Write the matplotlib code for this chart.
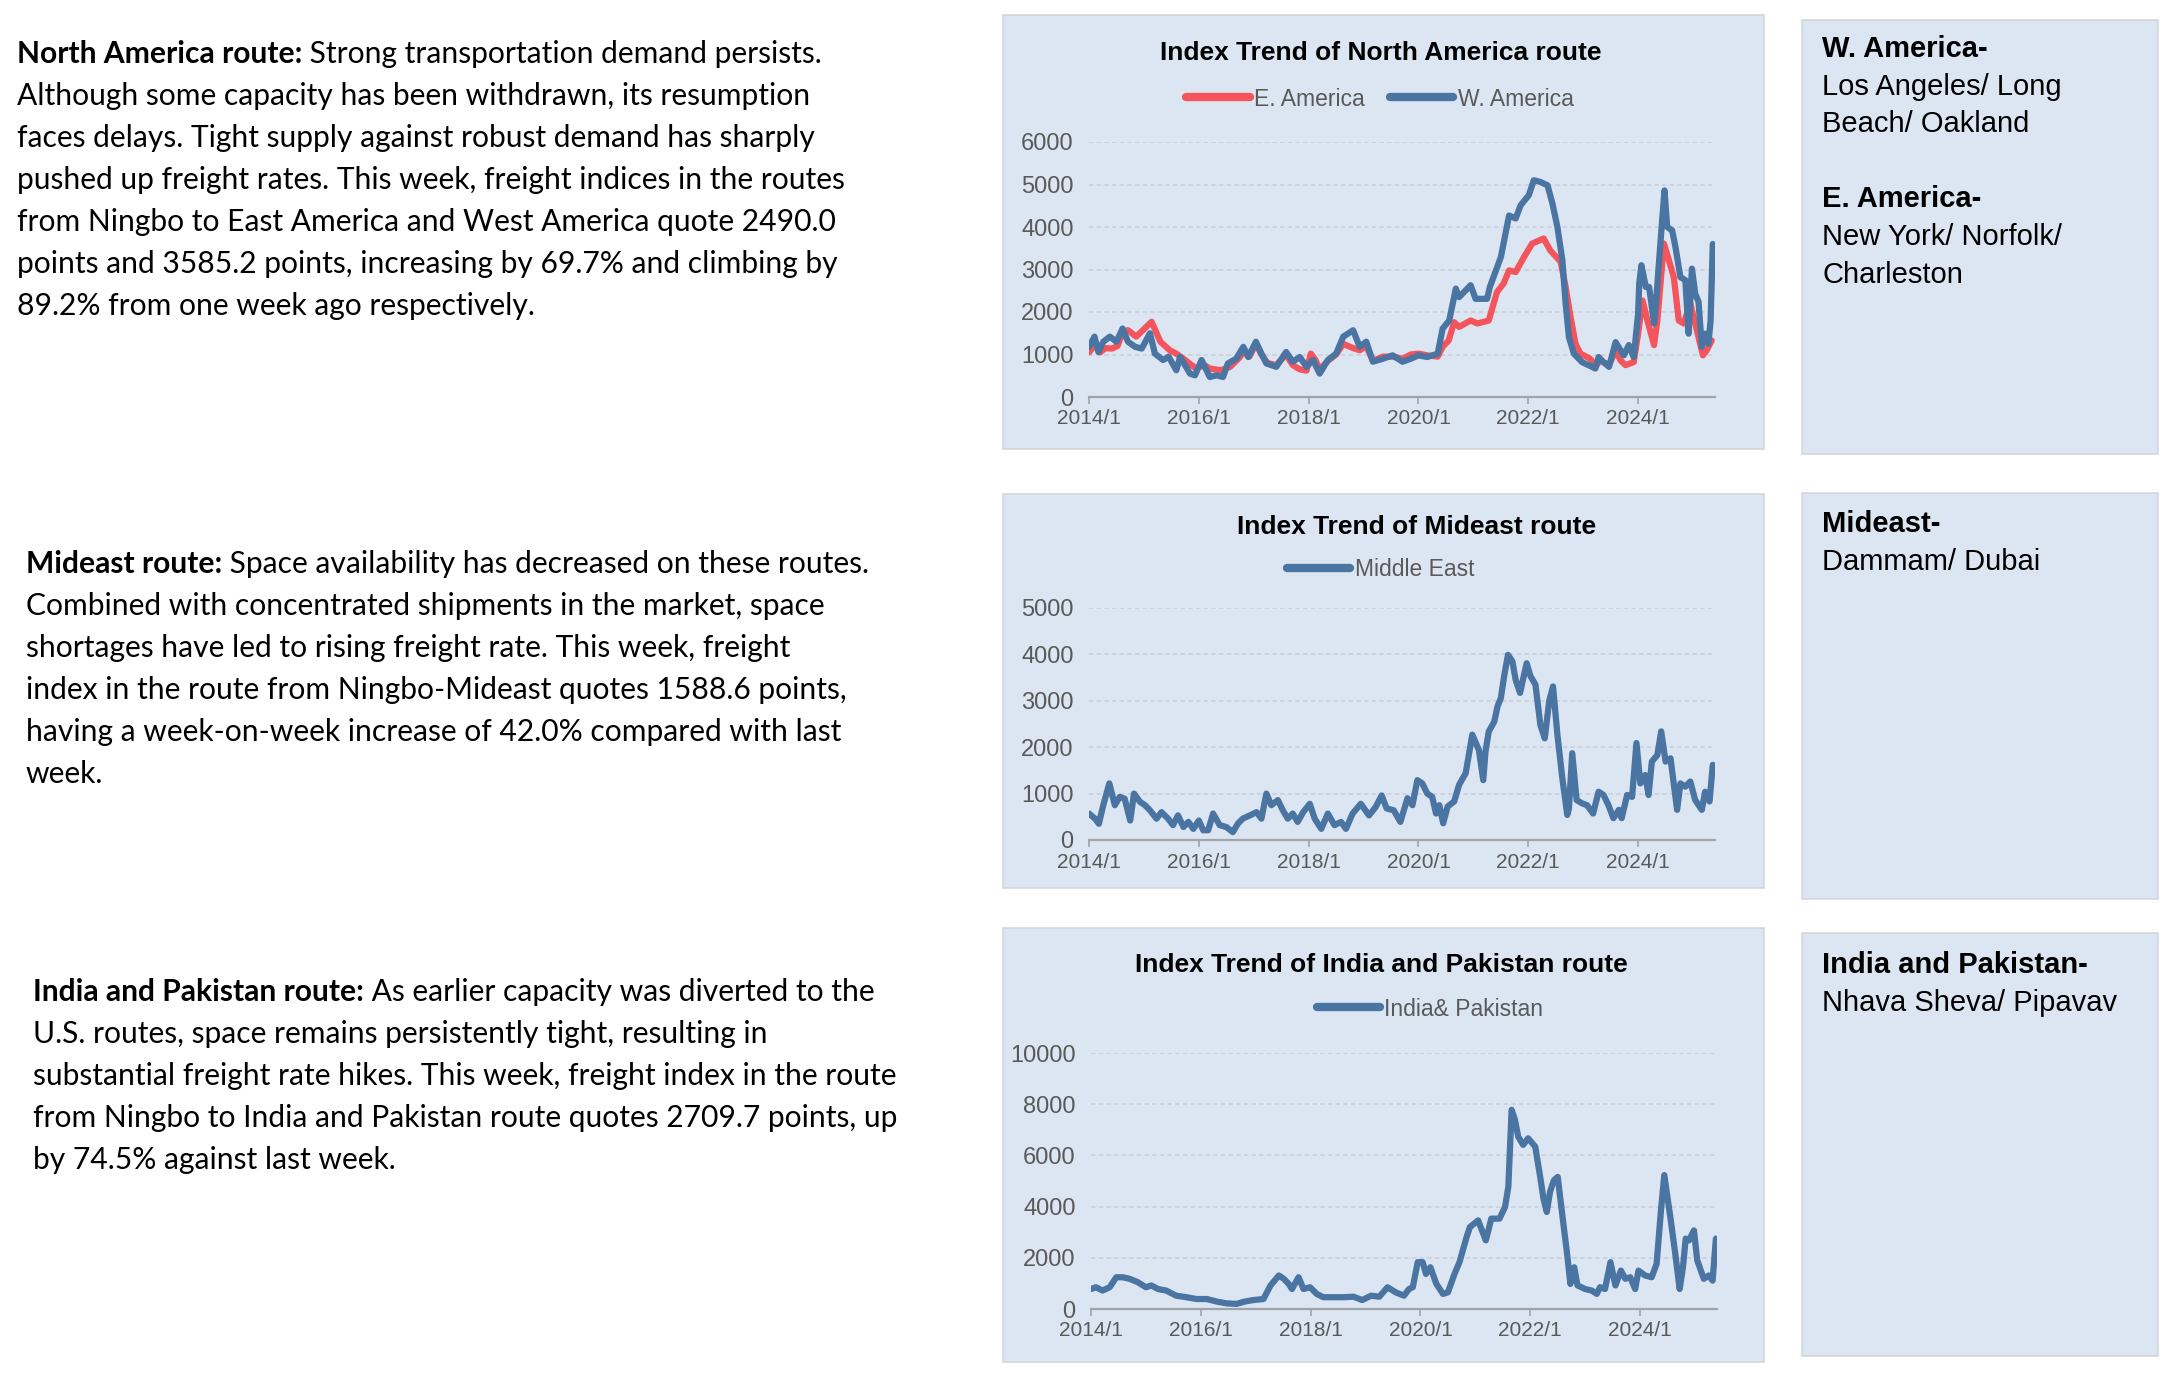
import matplotlib
matplotlib.use('Agg')
import matplotlib.pyplot as plt
from matplotlib.patches import Rectangle

# ---- data (decimal year, index points) ----
east_pts = [(2014.00, 1050), (2014.12, 1250), (2014.20, 1050), (2014.30, 1150), (2014.42, 1140),
            (2014.52, 1200), (2014.62, 1550), (2014.71, 1570), (2014.86, 1420), (2014.98, 1570),
            (2015.14, 1770), (2015.30, 1300), (2015.47, 1100), (2015.59, 1020), (2015.75, 870),
            (2015.95, 670), (2016.10, 750), (2016.20, 670), (2016.40, 630), (2016.57, 710),
            (2016.75, 940), (2016.84, 1100), (2016.92, 950), (2017.04, 1250), (2017.14, 1000),
            (2017.25, 800), (2017.41, 750), (2017.59, 1000), (2017.71, 750), (2017.84, 650),
            (2017.96, 620), (2018.04, 1020), (2018.12, 880), (2018.20, 650), (2018.35, 850),
            (2018.50, 1000), (2018.63, 1250), (2018.81, 1150), (2018.93, 1100), (2019.05, 1200),
            (2019.17, 850), (2019.35, 950), (2019.53, 950), (2019.71, 900), (2019.86, 1000),
            (2020.00, 1020), (2020.16, 980), (2020.35, 950), (2020.44, 1180), (2020.55, 1330),
            (2020.65, 1760), (2020.74, 1650), (2020.95, 1800), (2021.07, 1730), (2021.28, 1800),
            (2021.43, 2470), (2021.55, 2670), (2021.65, 2980), (2021.77, 2940), (2021.92, 3290),
            (2022.07, 3610), (2022.28, 3730), (2022.40, 3450), (2022.59, 3180), (2022.68, 2590),
            (2022.77, 1880), (2022.86, 1250), (2022.95, 1020), (2023.13, 900), (2023.22, 710),
            (2023.31, 860), (2023.47, 750), (2023.59, 1100), (2023.68, 860), (2023.77, 750),
            (2023.92, 820), (2024.00, 1490), (2024.08, 2270), (2024.17, 1800), (2024.29, 1220),
            (2024.35, 1800), (2024.47, 3610), (2024.56, 3220), (2024.65, 2820), (2024.74, 1800),
            (2024.83, 1730), (2024.95, 2200), (2025.01, 1880), (2025.10, 1410), (2025.18, 980),
            (2025.25, 1100), (2025.34, 1330)]

west_pts = [(2014.00, 1180), (2014.10, 1420), (2014.17, 1060), (2014.26, 1300), (2014.38, 1420),
            (2014.50, 1300), (2014.61, 1610), (2014.71, 1300), (2014.84, 1180), (2014.96, 1140),
            (2015.11, 1500), (2015.20, 1020), (2015.35, 870), (2015.45, 950), (2015.59, 630),
            (2015.66, 940), (2015.84, 550), (2015.93, 510), (2016.05, 870), (2016.20, 470),
            (2016.32, 510), (2016.44, 470), (2016.53, 790), (2016.68, 900), (2016.81, 1180),
            (2016.90, 940), (2017.04, 1300), (2017.14, 1020), (2017.23, 790), (2017.41, 710),
            (2017.59, 1060), (2017.71, 830), (2017.84, 940), (2017.96, 710), (2018.08, 870),
            (2018.20, 550), (2018.35, 870), (2018.50, 1020), (2018.63, 1420), (2018.81, 1570),
            (2018.93, 1180), (2019.05, 1300), (2019.17, 830), (2019.35, 900), (2019.53, 980),
            (2019.71, 830), (2019.86, 900), (2020.00, 980), (2020.16, 940), (2020.35, 1020),
            (2020.44, 1610), (2020.56, 1800), (2020.68, 2550), (2020.74, 2350), (2020.95, 2630),
            (2021.04, 2310), (2021.25, 2310), (2021.30, 2590), (2021.50, 3290), (2021.65, 4270),
            (2021.77, 4200), (2021.86, 4510), (2022.01, 4750), (2022.10, 5100), (2022.22, 5060),
            (2022.35, 4980), (2022.44, 4550), (2022.53, 4000), (2022.62, 3220), (2022.68, 2200),
            (2022.74, 1410), (2022.83, 1020), (2022.98, 820), (2023.16, 710), (2023.22, 670),
            (2023.28, 940), (2023.37, 820), (2023.47, 710), (2023.59, 1290), (2023.68, 1100),
            (2023.74, 980), (2023.83, 1220), (2023.92, 940), (2024.00, 1960), (2024.02, 2670),
            (2024.06, 3100), (2024.14, 2590), (2024.20, 2590), (2024.29, 1730), (2024.32, 2120),
            (2024.41, 3690), (2024.48, 4860), (2024.53, 4000), (2024.62, 3920), (2024.68, 3530),
            (2024.77, 2820), (2024.86, 2750), (2024.92, 1490), (2024.98, 3020), (2025.04, 2430),
            (2025.10, 2240), (2025.16, 1180), (2025.22, 1490), (2025.28, 1250), (2025.32, 1800),
            (2025.36, 3600)]

mideast_pts = [(2014.00, 570), (2014.11, 460), (2014.18, 350), (2014.26, 750), (2014.37, 1220),
               (2014.47, 750), (2014.56, 930), (2014.65, 890), (2014.75, 420), (2014.82, 1000),
               (2014.93, 820), (2015.02, 750), (2015.11, 640), (2015.23, 460), (2015.32, 600),
               (2015.44, 460), (2015.53, 320), (2015.62, 530), (2015.72, 280), (2015.81, 390),
               (2015.90, 240), (2016.00, 420), (2016.08, 210), (2016.17, 210), (2016.26, 570),
               (2016.38, 320), (2016.50, 280), (2016.62, 170), (2016.71, 350), (2016.80, 460),
               (2016.93, 530), (2017.05, 600), (2017.14, 460), (2017.23, 1000), (2017.32, 750),
               (2017.44, 860), (2017.53, 640), (2017.62, 460), (2017.71, 570), (2017.80, 390),
               (2017.90, 600), (2018.02, 780), (2018.11, 460), (2018.23, 240), (2018.35, 570),
               (2018.47, 320), (2018.59, 390), (2018.68, 240), (2018.80, 570), (2018.95, 780),
               (2019.10, 530), (2019.22, 710), (2019.33, 960), (2019.42, 680), (2019.55, 640),
               (2019.67, 390), (2019.80, 900), (2019.89, 750), (2019.98, 1290), (2020.07, 1220),
               (2020.16, 1000), (2020.25, 930), (2020.32, 570), (2020.38, 750), (2020.45, 360),
               (2020.53, 720), (2020.65, 830), (2020.74, 1190), (2020.86, 1440), (2020.98, 2270),
               (2021.10, 1940), (2021.18, 1290), (2021.22, 1900), (2021.28, 2340), (2021.38, 2550),
               (2021.44, 2880), (2021.50, 3060), (2021.56, 3530), (2021.63, 3990), (2021.71, 3850),
               (2021.77, 3450), (2021.85, 3170), (2021.97, 3810), (2022.04, 3530), (2022.13, 3350),
               (2022.22, 2480), (2022.30, 2190), (2022.38, 2990), (2022.45, 3310), (2022.53, 2270),
               (2022.62, 1330), (2022.71, 540), (2022.74, 680), (2022.80, 1870), (2022.88, 860),
               (2022.98, 790), (2023.07, 750), (2023.18, 570), (2023.28, 1040), (2023.37, 970),
               (2023.46, 750), (2023.55, 470), (2023.65, 650), (2023.70, 470), (2023.80, 970),
               (2023.89, 930), (2023.97, 2090), (2024.04, 1220), (2024.13, 1400), (2024.19, 970),
               (2024.25, 1690), (2024.35, 1830), (2024.42, 2340), (2024.50, 1690), (2024.59, 1760),
               (2024.71, 650), (2024.77, 1220), (2024.86, 1150), (2024.95, 1260), (2025.04, 860),
               (2025.16, 650), (2025.22, 1040), (2025.30, 830), (2025.36, 1620)]

indpak_pts = [(2014.00, 780), (2014.09, 850), (2014.21, 720), (2014.34, 850), (2014.46, 1240),
              (2014.58, 1240), (2014.70, 1180), (2014.85, 1050), (2015.00, 850), (2015.10, 920),
              (2015.22, 780), (2015.37, 720), (2015.55, 520), (2015.74, 460), (2015.92, 390),
              (2016.11, 390), (2016.29, 290), (2016.47, 220), (2016.65, 200), (2016.80, 290),
              (2016.96, 350), (2017.14, 390), (2017.27, 920), (2017.42, 1310), (2017.51, 1180),
              (2017.60, 980), (2017.66, 780), (2017.78, 1240), (2017.87, 780), (2017.99, 850),
              (2018.11, 590), (2018.23, 460), (2018.41, 460), (2018.60, 460), (2018.78, 480),
              (2018.94, 350), (2019.10, 520), (2019.25, 480), (2019.40, 850), (2019.55, 650),
              (2019.70, 520), (2019.79, 780), (2019.86, 850), (2019.95, 1830), (2020.04, 1830),
              (2020.10, 1370), (2020.18, 1630), (2020.29, 980), (2020.41, 590), (2020.50, 650),
              (2020.62, 1370), (2020.71, 1830), (2020.84, 2810), (2020.90, 3200), (2021.05, 3460),
              (2021.19, 2680), (2021.29, 3530), (2021.44, 3530), (2021.54, 3990), (2021.60, 4770),
              (2021.66, 7780), (2021.72, 7390), (2021.78, 6730), (2021.87, 6410), (2021.96, 6670),
              (2022.09, 6340), (2022.18, 5160), (2022.24, 4310), (2022.30, 3790), (2022.36, 4580),
              (2022.43, 5030), (2022.50, 5160), (2022.55, 4250), (2022.61, 3200), (2022.67, 2160),
              (2022.73, 980), (2022.80, 1630), (2022.86, 920), (2023.00, 780), (2023.12, 720),
              (2023.21, 590), (2023.27, 850), (2023.36, 780), (2023.46, 1830), (2023.55, 920),
              (2023.65, 1500), (2023.73, 1180), (2023.82, 1240), (2023.91, 780), (2023.97, 1500),
              (2024.09, 1310), (2024.21, 1240), (2024.30, 1760), (2024.38, 3860), (2024.44, 5230),
              (2024.55, 3590), (2024.64, 2160), (2024.72, 780), (2024.78, 1630), (2024.83, 2750),
              (2024.89, 2680), (2024.98, 3070), (2025.04, 1900), (2025.16, 1180), (2025.25, 1310),
              (2025.32, 1110), (2025.38, 2750)]

year_ticks = [2014, 2016, 2018, 2020, 2022, 2024]
year_labels = ['2014/1', '2016/1', '2018/1', '2020/1', '2022/1', '2024/1']

para_na = ["North America route: Strong transportation demand persists.",
           "Although some capacity has been withdrawn, its resumption",
           "faces delays. Tight supply against robust demand has sharply",
           "pushed up freight rates. This week, freight indices in the routes",
           "from Ningbo to East America and West America quote 2490.0",
           "points and 3585.2 points, increasing by 69.7% and climbing by",
           "89.2% from one week ago respectively."]
para_me = ["Mideast route: Space availability has decreased on these routes.",
           "Combined with concentrated shipments in the market, space",
           "shortages have led to rising freight rate. This week, freight",
           "index in the route from Ningbo-Mideast quotes 1588.6 points,",
           "having a week-on-week increase of 42.0% compared with last",
           "week."]
para_ip = ["India and Pakistan route: As earlier capacity was diverted to the",
           "U.S. routes, space remains persistently tight, resulting in",
           "substantial freight rate hikes. This week, freight index in the route",
           "from Ningbo to India and Pakistan route quotes 2709.7 points, up",
           "by 74.5% against last week."]

RED = '#F4545B'
BLUE = '#4A74A2'
PANEL = '#DCE6F2'
GRAY = '#595959'

W, H = 2175, 1377
fig = plt.figure(figsize=(W / 100, H / 100), dpi=100)
fig.patch.set_facecolor('white')
renderer = fig.canvas.get_renderer()


def fx(x):
    return x / W


def fy(y):
    return 1 - y / H


def box(x0, y0, x1, y1):
    fig.add_artist(Rectangle((fx(x0), fy(y1)), (x1 - x0) / W, (y1 - y0) / H,
                             transform=fig.transFigure, facecolor=PANEL,
                             edgecolor='#D3D7DC', lw=1.2, zorder=-10))


def chart(x0, y_top, x1, y_bot, ymax, step):
    ax = fig.add_axes([fx(x0), fy(y_bot), (x1 - x0) / W, (y_bot - y_top) / H])
    ax.set_facecolor('none')
    ax.set_xlim(2014, 2025.4)
    ax.set_ylim(0, ymax)
    ax.set_yticks(range(0, ymax + 1, step))
    ax.set_xticks(year_ticks)
    ax.set_xticklabels(year_labels)
    for s in ['left', 'right', 'top']:
        ax.spines[s].set_visible(False)
    ax.spines['bottom'].set_color('#A0A4A8')
    ax.spines['bottom'].set_linewidth(1.6)
    ax.tick_params(axis='y', length=0, pad=11, labelsize=17, labelcolor=GRAY)
    ax.tick_params(axis='x', length=5, width=1.2, color='#A0A4A8', pad=4,
                   labelsize=15, labelcolor=GRAY)
    ax.grid(axis='y', color='#C9CED6', lw=1.1, ls=(0, (3, 2)))
    ax.set_axisbelow(True)
    return ax


def series(ax, pts, color, label):
    xs = [p[0] for p in pts]
    ys = [p[1] for p in pts]
    ax.plot(xs, ys, color=color, lw=4.5, label=label, solid_joinstyle='round',
            solid_capstyle='round')


def legend(ax, cx, cy, ncol=1):
    leg = ax.legend(loc='center', bbox_to_anchor=(fx(cx), fy(cy)),
                    bbox_transform=fig.transFigure, ncol=ncol, frameon=False,
                    fontsize=16.5, handlelength=2.75, handletextpad=0.2,
                    columnspacing=1.1, borderaxespad=0)
    for h in leg.get_lines():
        h.set_linewidth(6)
    for t in leg.get_texts():
        t.set_color(GRAY)


def para(x, y, lines, head, size=21.6, step=42):
    for i, line in enumerate(lines):
        yy = fy(y + i * step + 10)
        if i == 0:
            t = fig.text(fx(x), yy, head, fontsize=size, fontweight='bold',
                         family='Lato', va='baseline', ha='left')
            bb = t.get_window_extent(renderer)
            fig.text(bb.x1 / W, yy, line[len(head):], fontsize=size,
                     family='Lato', va='baseline', ha='left')
        else:
            fig.text(fx(x), yy, line, fontsize=size, family='Lato',
                     va='baseline', ha='left')


def side(x, y, rows, step=37.6):
    for i, (txt, bold) in enumerate(rows):
        if txt:
            fig.text(fx(x), fy(y + i * step), txt, fontsize=21,
                     fontweight='bold' if bold else 'normal',
                     family='Liberation Sans', va='center', ha='left')


plt.rcParams['font.family'] = ['Liberation Sans', 'DejaVu Sans']

# ---- panels ----
box(1003, 15, 1764, 449)
box(1003, 494, 1764, 888)
box(1003, 928, 1764, 1362)
box(1802, 20, 2158, 454)
box(1802, 493, 2158, 899)
box(1802, 933, 2158, 1356)

# ---- North America ----
ax1 = chart(1089, 142, 1715, 397, 6000, 1000)
series(ax1, east_pts, RED, 'E. America')
series(ax1, west_pts, BLUE, 'W. America')
legend(ax1, 1380, 99, ncol=2)
fig.text(fx(1381), fy(53), 'Index Trend of North America route', fontsize=19,
         fontweight='bold', ha='center', va='center')

# ---- Mideast ----
ax2 = chart(1089, 608, 1715, 840, 5000, 1000)
series(ax2, mideast_pts, BLUE, 'Middle East')
legend(ax2, 1381, 570)
fig.text(fx(1417), fy(527), 'Index Trend of Mideast route', fontsize=19,
         fontweight='bold', ha='center', va='center')

# ---- India & Pakistan ----
ax3 = chart(1091, 1053, 1717, 1309, 10000, 2000)
series(ax3, indpak_pts, BLUE, 'India& Pakistan')
legend(ax3, 1430, 1009)
fig.text(fx(1381), fy(965), 'Index Trend of India and Pakistan route', fontsize=19,
         fontweight='bold', ha='center', va='center')

# ---- left commentary ----
para(17, 53, para_na, 'North America route:')
para(26, 563, para_me, 'Mideast route:')
para(33, 991, para_ip, 'India and Pakistan route:')

# ---- port boxes ----
side(1822, 49, [('W. America-', True), ('Los Angeles/ Long', False),
                ('Beach/ Oakland', False), ('', False), ('E. America-', True),
                ('New York/ Norfolk/', False), ('Charleston', False)])
side(1822, 524, [('Mideast-', True), ('Dammam/ Dubai', False)])
side(1822, 965, [('India and Pakistan-', True), ('Nhava Sheva/ Pipavav', False)])

fig.savefig('out.png', dpi=100)
